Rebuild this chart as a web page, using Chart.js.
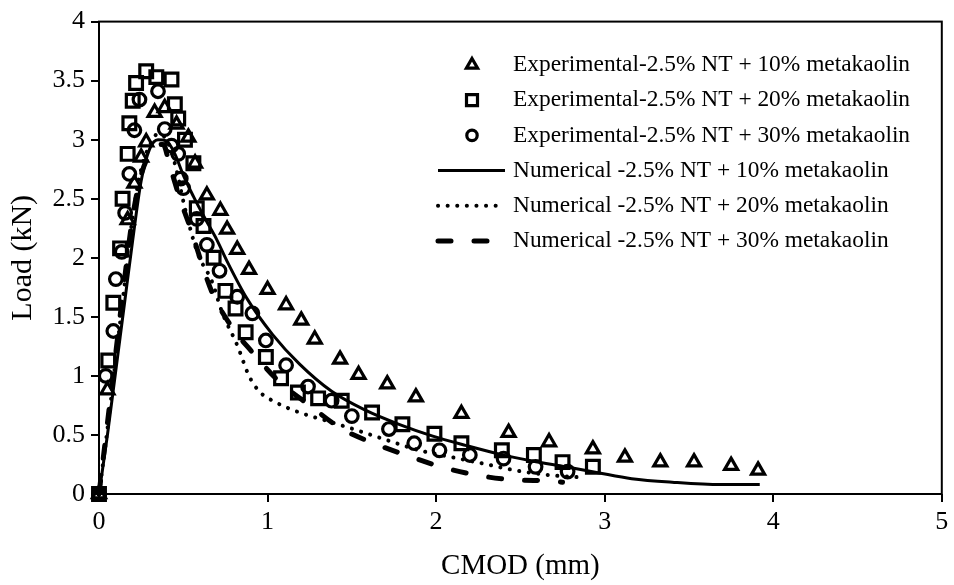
<!DOCTYPE html>
<html>
<head>
<meta charset="utf-8">
<script src="https://cdn.jsdelivr.net/npm/chart.js@4/dist/chart.umd.min.js"></script>
<style>
  html, body { margin: 0; padding: 0; background: #fff; }
  #wrap { width: 954px; height: 585px; }
</style>
</head>
<body>
<div id="wrap"><canvas id="cmod" width="954" height="585"></canvas></div>
<script>
// Experimental CMOD (mm) / load (kN) readings
const exp10X = [0, 0.05, 0.17, 0.21, 0.25, 0.28, 0.33, 0.39, 0.46, 0.53, 0.57, 0.64, 0.72, 0.76, 0.82, 0.89, 1.0, 1.11, 1.2, 1.28, 1.43, 1.54, 1.71, 1.88, 2.15, 2.43, 2.67, 2.93, 3.12, 3.33, 3.53, 3.75, 3.91];
const exp10Y = [0, 0.88, 2.32, 2.63, 2.85, 2.98, 3.23, 3.27, 3.13, 3.02, 2.8, 2.53, 2.40, 2.24, 2.07, 1.9, 1.73, 1.6, 1.47, 1.31, 1.14, 1.01, 0.93, 0.82, 0.68, 0.52, 0.44, 0.38, 0.31, 0.27, 0.27, 0.24, 0.2];

const exp20X = [0, 0.055, 0.085, 0.125, 0.14, 0.17, 0.18, 0.2, 0.22, 0.28, 0.34, 0.43, 0.45, 0.47, 0.51, 0.56, 0.58, 0.62, 0.68, 0.75, 0.81, 0.87, 0.99, 1.08, 1.18, 1.3, 1.44, 1.62, 1.8, 1.99, 2.15, 2.39, 2.58, 2.75, 2.93];
const exp20Y = [0, 1.13, 1.62, 2.08, 2.5, 2.88, 3.14, 3.33, 3.48, 3.58, 3.53, 3.51, 3.3, 3.18, 3.0, 2.8, 2.42, 2.27, 2.0, 1.72, 1.57, 1.37, 1.16, 0.98, 0.86, 0.81, 0.79, 0.69, 0.59, 0.51, 0.43, 0.37, 0.33, 0.27, 0.23];

const exp30X = [0, 0.04, 0.085, 0.1, 0.135, 0.155, 0.18, 0.21, 0.24, 0.35, 0.39, 0.43, 0.47, 0.485, 0.5, 0.58, 0.64, 0.715, 0.82, 0.91, 0.99, 1.11, 1.24, 1.38, 1.5, 1.72, 1.87, 2.02, 2.2, 2.4, 2.59, 2.78];
const exp30Y = [0, 1.0, 1.38, 1.82, 2.05, 2.38, 2.71, 3.08, 3.34, 3.41, 3.09, 2.95, 2.88, 2.67, 2.59, 2.33, 2.11, 1.89, 1.67, 1.53, 1.3, 1.09, 0.91, 0.79, 0.66, 0.55, 0.43, 0.37, 0.33, 0.3, 0.23, 0.19];

// Numerical curves
const num10X = [0, 0.05, 0.1, 0.15, 0.2, 0.25, 0.3, 0.35, 0.4, 0.45, 0.5, 0.56, 0.63, 0.7, 0.76, 0.88, 1.03, 1.19, 1.38, 1.58, 1.78, 1.98, 2.18, 2.37, 2.57, 2.77, 2.96, 3.16, 3.4, 3.69, 3.92];
const num10Y = [0, 0.5, 1.05, 1.6, 2.15, 2.65, 2.92, 3.0, 2.99, 2.88, 2.7, 2.52, 2.33, 2.15, 1.97, 1.65, 1.35, 1.1, 0.87, 0.71, 0.59, 0.49, 0.41, 0.34, 0.28, 0.23, 0.18, 0.13, 0.1, 0.08, 0.08];

const num20X = [0, 0.05, 0.1, 0.15, 0.2, 0.25, 0.3, 0.35, 0.4, 0.45, 0.51, 0.585, 0.67, 0.73, 0.82, 0.89, 0.95, 1.03, 1.19, 1.35, 1.53, 1.72, 1.9, 2.1, 2.27, 2.47, 2.67, 2.87];
const num20Y = [0, 0.55, 1.15, 1.75, 2.35, 2.75, 2.95, 3.05, 3.0, 2.8, 2.42, 2.04, 1.8, 1.54, 1.26, 1.0, 0.87, 0.79, 0.69, 0.62, 0.54, 0.45, 0.37, 0.31, 0.26, 0.2, 0.16, 0.14];

const num30X = [0, 0.05, 0.1, 0.15, 0.2, 0.25, 0.3, 0.35, 0.38, 0.42, 0.48, 0.55, 0.61, 0.67, 0.78, 0.91, 1.07, 1.25, 1.43, 1.61, 1.82, 2.03, 2.24, 2.46, 2.69, 2.75];
const num30Y = [0, 0.6, 1.2, 1.8, 2.35, 2.7, 2.88, 2.95, 2.96, 2.78, 2.5, 2.22, 1.95, 1.71, 1.43, 1.2, 0.95, 0.75, 0.56, 0.44, 0.33, 0.23, 0.16, 0.12, 0.11, 0.1];

const seriesNames = [
  'Experimental-2.5% NT + 10% metakaolin',
  'Experimental-2.5% NT + 20% metakaolin',
  'Experimental-2.5% NT + 30% metakaolin',
  'Numerical -2.5% NT + 10% metakaolin',
  'Numerical -2.5% NT + 20% metakaolin',
  'Numerical -2.5% NT + 30% metakaolin'
];

const SERIF = "'Liberation Serif', 'Times New Roman', serif";

function pts(xs, ys) {
  return xs.map((x, i) => ({x: x, y: ys[i]}));
}

function markerSet(label, xs, ys, style, r) {
  return {
    label: label,
    data: pts(xs, ys),
    showLine: false,
    pointStyle: style,
    pointRadius: r,
    pointHoverRadius: r,
    pointBorderWidth: 3.2,
    borderColor: '#000',
    backgroundColor: 'rgba(0,0,0,0)',
    clip: false
  };
}

function curveSet(label, xs, ys, width, dash, cap) {
  return {
    label: label,
    data: pts(xs, ys),
    showLine: true,
    pointRadius: 0,
    borderColor: '#000',
    borderWidth: width,
    borderDash: dash,
    borderCapStyle: cap,
    cubicInterpolationMode: 'monotone',
    fill: false,
    clip: false
  };
}

// frame round the plot area
const plotFrame = {
  id: 'plotFrame',
  beforeDatasetsDraw(chart) {
    const a = chart.chartArea, ctx = chart.ctx;
    ctx.save();
    ctx.strokeStyle = '#000';
    ctx.lineWidth = 2;
    ctx.strokeRect(a.left, a.top, a.right - a.left, a.bottom - a.top);
    ctx.restore();
  }
};

// legend drawn inside the plot, top right
const innerLegend = {
  id: 'innerLegend',
  afterDatasetsDraw(chart) {
    const ctx = chart.ctx;
    ctx.save();
    ctx.font = '23.4px ' + SERIF;
    ctx.textBaseline = 'middle';
    ctx.fillStyle = '#000';
    ctx.strokeStyle = '#000';
    chart.data.datasets.forEach((ds, i) => {
      const y = 65 + i * 35.2;
      const cx = 472;
      ctx.setLineDash([]);
      if (ds.showLine) {
        ctx.lineWidth = ds.borderWidth;
        ctx.lineCap = ds.borderCapStyle;
        ctx.setLineDash(ds.borderDash);
        ctx.beginPath();
        ctx.moveTo(438, y);
        ctx.lineTo(505, y);
        ctx.stroke();
        ctx.setLineDash([]);
      } else {
        ctx.lineWidth = 3.2;
        ctx.lineCap = 'butt';
        ctx.beginPath();
        if (ds.pointStyle === 'triangle') {
          ctx.moveTo(cx, y - 6.5);
          ctx.lineTo(cx + 5.6, y + 3.2);
          ctx.lineTo(cx - 5.6, y + 3.2);
          ctx.closePath();
        } else if (ds.pointStyle === 'rect') {
          ctx.rect(cx - 5.5, y - 5.5, 11, 11);
        } else {
          ctx.arc(cx, y, 5.2, 0, Math.PI * 2);
        }
        ctx.stroke();
      }
      ctx.fillText(ds.label, 513, y);
    });
    ctx.restore();
  }
};

new Chart(document.getElementById('cmod'), {
  type: 'scatter',
  data: {
    datasets: [
      markerSet(seriesNames[0], exp10X, exp10Y, 'triangle', 7.5),
      markerSet(seriesNames[1], exp20X, exp20Y, 'rect', 9),
      markerSet(seriesNames[2], exp30X, exp30Y, 'circle', 6.3),
      curveSet(seriesNames[3], num10X, num10Y, 3, [], 'butt'),
      curveSet(seriesNames[4], num20X, num20Y, 4, [0.1, 9.5], 'round'),
      curveSet(seriesNames[5], num30X, num30Y, 5, [13, 23], 'round')
    ]
  },
  options: {
    responsive: false,
    animation: false,
    devicePixelRatio: 1,
    layout: { padding: { top: 16, right: 10, left: 0, bottom: 0 } },
    plugins: {
      legend: { display: false },
      tooltip: { enabled: false }
    },
    scales: {
      x: {
        type: 'linear',
        min: 0,
        max: 5,
        afterFit(scale) { scale.height = 91; },
        border: { display: false },
        grid: { drawOnChartArea: false, drawTicks: true, tickLength: 8, color: '#000', lineWidth: 2 },
        ticks: { stepSize: 1, color: '#000', padding: 5, font: { family: SERIF, size: 26 },
                 callback: v => String(v) },
        title: { display: true, text: 'CMOD (mm)', color: '#000', padding: { top: 0, bottom: 1 }, font: { family: SERIF, size: 29 } }
      },
      y: {
        type: 'linear',
        min: 0,
        max: 4,
        afterFit(scale) { scale.width = 99; },
        border: { display: false },
        grid: { drawOnChartArea: false, drawTicks: true, tickLength: 8, color: '#000', lineWidth: 2 },
        ticks: { stepSize: 0.5, color: '#000', padding: 6, font: { family: SERIF, size: 26 },
                 callback: v => String(v) },
        title: { display: true, text: 'Load (kN)', color: '#000', padding: { top: 5, bottom: 0 }, font: { family: SERIF, size: 30 } }
      }
    }
  },
  plugins: [plotFrame, innerLegend]
});
</script>
</body>
</html>
